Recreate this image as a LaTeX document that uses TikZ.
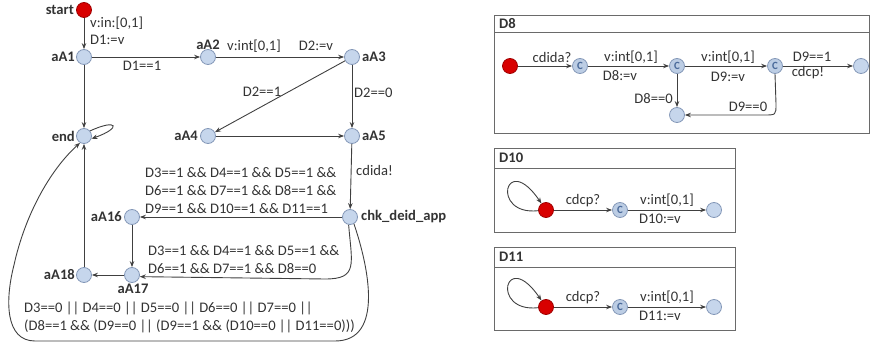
\documentclass[tikz,border=0pt]{standalone}
\usepackage{fontspec}
\setmainfont{Carlito}
\usetikzlibrary{arrows.meta}
\definecolor{stf}{HTML}{C6D6EC}
\definecolor{stb}{HTML}{8498B8}
\definecolor{inif}{HTML}{D80000}
\definecolor{inib}{HTML}{A00000}
\definecolor{tx}{HTML}{333333}
\definecolor{ln}{HTML}{404040}
\definecolor{cc}{HTML}{4A6A9A}
\definecolor{bx}{HTML}{6A6A6A}
\tikzset{
  st/.style={circle, draw=stb, fill=stf, line width=0.8pt, minimum size=15pt, inner sep=0pt},
  ini/.style={circle, draw=inib, fill=inif, line width=0.8pt, minimum size=15pt, inner sep=0pt},
  cst/.style={st, fill=stf!85!stb, font=\fontsize{11}{11}\selectfont\bfseries, text=cc},
  sname/.style={font=\fontsize{14.6}{17}\selectfont\bfseries, text=tx, inner sep=0pt},
  lbl/.style={font=\fontsize{14.6}{17}\selectfont, text=tx, inner sep=0pt},
  mlbl/.style={lbl, align=left, font=\fontsize{14.6}{18}\selectfont},
  edge/.style={draw=ln, line width=0.9pt, -{Stealth[length=6pt,width=4.5pt]}},
  boxln/.style={draw=bx, line width=0.9pt}
}
\begin{document}
\begin{tikzpicture}[x=1pt,y=-1pt]
\useasboundingbox (0,0) rectangle (870,345);
% ---------- main automaton ----------
\node[ini] (start) at (84,10) {};
\node[st] (aA1) at (84,57) {};
\node[st] (aA2) at (208,57) {};
\node[st] (aA3) at (352,57) {};
\node[st] (aA4) at (208,136) {};
\node[st] (aA5) at (352,136) {};
\node[st] (end) at (84,136) {};
\node[st] (chk) at (350,217) {};
\node[st] (aA16) at (132,217) {};
\node[st] (aA17) at (132,275) {};
\node[st] (aA18) at (84,275) {};
% state names
\node[sname, anchor=east] (nstart) at (74,10) {start};
\node[sname, anchor=east] (naA1) at (75,57) {aA1};
\node[sname] (naA2) at (208,45) {aA2};
\node[sname, anchor=west] (naA3) at (362,57) {aA3};
\node[sname, anchor=east] (naA4) at (198,136) {aA4};
\node[sname, anchor=west] (naA5) at (362,136) {aA5};
\node[sname, anchor=east] (nend) at (75,136) {end};
\node[sname, anchor=west] (nchk) at (361,217) {chk\_deid\_app};
\node[sname, anchor=east] (naA16) at (122,217) {aA16};
\node[sname] (naA17) at (133,289) {aA17};
\node[sname, anchor=east] (naA18) at (75,275) {aA18};
% edges
\draw[edge] (start) -- (aA1);
\draw[edge] (aA1) -- (aA2);
\draw[edge] (aA2) -- (aA3);
\draw[edge] (aA3) -- (aA4);
\draw[edge] (aA3) -- (aA5);
\draw[edge] (aA4) -- (aA5);
\draw[edge] (aA1) -- (end);
\draw[edge] (end.40) .. controls (118,118) and (122,128) .. (end.-20);
\draw[edge] (aA5) -- (chk);
\draw[edge] (chk) -- (aA16);
\draw[edge] (aA16) -- (aA17);
\draw[edge] (aA17) -- (aA18);
\draw[edge] (aA18) -- (end);
\draw[edge] (chk.-100) .. controls (352,265) and (358,279) .. (325,279) -- (aA17.-12);
\draw[edge] (chk.-60) .. controls (368,265) and (385,341) .. (335,341) -- (35,341)
  .. controls (5,341) and (5,300) .. (14,265) .. controls (25,215) and (50,170) .. (end.-120);
% edge labels
\node[lbl, anchor=west] (l1) at (90,23) {v:in:[0,1]};
\node[lbl, anchor=west] (l2) at (90,40) {D1:=v};
\node[lbl] (l3) at (142,66) {D1==1};
\node[lbl] (l4) at (254,46) {v:int[0,1]};
\node[lbl] (l5) at (316,46) {D2:=v};
\node[lbl] (l6) at (262,92) {D2==1};
\node[lbl, anchor=west] (l7) at (354,93) {D2==0};
\node[lbl, anchor=west] (l8) at (356,170) {cdida!};
\node[mlbl, anchor=west] (l9) at (145,191) {D3==1 \&\& D4==1 \&\& D5==1 \&\&\\D6==1 \&\& D7==1 \&\& D8==1 \&\&\\D9==1 \&\& D10==1 \&\& D11==1};
\node[mlbl, anchor=west] (l10) at (148,260) {D3==1 \&\& D4==1 \&\& D5==1 \&\&\\D6==1 \&\& D7==1 \&\& D8==0};
\node[mlbl, anchor=west] (l11) at (24,317) {D3==0 || D4==0 || D5==0 || D6==0 || D7==0 ||\\(D8==1 \&\& (D9==0 || (D9==1 \&\& (D10==0 || D11==0)))};
% ---------- D8 ----------
\draw[boxln] (494,15) rectangle (869,133);
\draw[boxln] (494,32) -- (869,32);
\node[sname, anchor=west] (t8) at (499,23.5) {D8};
\node[ini] (r8) at (510,66) {};
\node[cst] (c81) at (580,66) {C};
\node[cst] (c82) at (677,66) {C};
\node[cst] (c83) at (775,66) {C};
\node[st] (f8) at (861,66) {};
\node[st] (b8) at (677,115) {};
\draw[edge] (r8) -- (c81);
\draw[edge] (c81) -- (c82);
\draw[edge] (c82) -- (c83);
\draw[edge] (c83) -- (f8);
\draw[edge] (c82) -- (b8);
\draw[edge] (c83.south) -- (776,104) .. controls (776,115) .. (764,115) -- (b8);
\node[lbl] (m1) at (552,57) {cdida?};
\node[lbl] (m2) at (631,57) {v:int[0,1]};
\node[lbl] (m3) at (620,76) {D8:=v};
\node[lbl] (m4) at (728,57) {v:int[0,1]};
\node[lbl] (m5) at (728,77) {D9:=v};
\node[lbl] (m6) at (812,57) {D9==1};
\node[lbl] (m7) at (808,73) {cdcp!};
\node[lbl, anchor=east] (m8) at (673,99) {D8==0};
\node[lbl] (m9) at (748,107) {D9==0};
% ---------- D10 ----------
\draw[boxln] (494,148) rectangle (735,232);
\draw[boxln] (494,168) -- (735,168);
\node[sname, anchor=west] (t10) at (499,158) {D10};
\node[ini] (r10) at (546,210) {};
\node[cst] (c10) at (620,210) {C};
\node[st] (f10) at (714,210) {};
\draw[edge] (r10.185) .. controls (490,216) and (505,150) .. (r10.125);
\draw[edge] (r10) -- (c10);
\draw[edge] (c10) -- (f10);
\node[lbl] (n1) at (583,201) {cdcp?};
\node[lbl] (n2) at (667,200) {v:int[0,1]};
\node[lbl] (n3) at (660,219) {D10:=v};
% ---------- D11 ----------
\draw[boxln] (494,247) rectangle (735,330);
\draw[boxln] (494,267) -- (735,267);
\node[sname, anchor=west] (t11) at (499,257) {D11};
\node[ini] (r11) at (546,307) {};
\node[cst] (c11) at (620,307) {C};
\node[st] (f11) at (714,307) {};
\draw[edge] (r11.185) .. controls (490,313) and (505,247) .. (r11.125);
\draw[edge] (r11) -- (c11);
\draw[edge] (c11) -- (f11);
\node[lbl] (o1) at (583,298) {cdcp?};
\node[lbl] (o2) at (667,297) {v:int[0,1]};
\node[lbl] (o3) at (660,316) {D11:=v};
\end{tikzpicture}
\end{document}
